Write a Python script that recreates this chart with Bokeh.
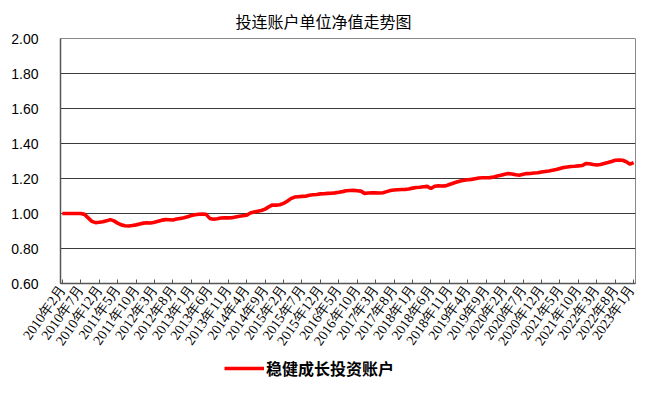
from bokeh.plotting import figure
from bokeh.layouts import column
from bokeh.models import (Range1d, FixedTicker, NumeralTickFormatter, ColumnDataSource,
                          Legend, LegendItem)
from bokeh.embed import file_html
from bokeh.resources import INLINE

title_text = "投连账户单位净值走势图"
series_name = "稳健成长投资账户"

# monthly unit values, 2010年2月 ...
values = [
    1.000, 1.000, 1.000, 1.000, 1.000, 1.000, 0.995,
    0.975, 0.955, 0.948, 0.950, 0.953, 0.958,
    0.965, 0.958, 0.945, 0.935, 0.930, 0.929,
    0.931, 0.935, 0.940, 0.945, 0.947, 0.946,
    0.950, 0.956, 0.962, 0.965, 0.964, 0.963,
    0.968, 0.972, 0.976, 0.982, 0.988, 0.993,
    0.996, 0.997, 0.995, 0.972, 0.967, 0.970,
    0.974, 0.975, 0.975, 0.976, 0.980, 0.984,
    0.987, 0.990, 1.003, 1.008, 1.013, 1.017,
    1.025, 1.038, 1.049, 1.048, 1.050, 1.058,
    1.070, 1.085, 1.094, 1.096, 1.098, 1.099,
    1.104, 1.107, 1.109, 1.112, 1.113, 1.115,
    1.116, 1.118, 1.121, 1.125, 1.130, 1.131,
    1.132, 1.130, 1.128, 1.115, 1.117, 1.118,
    1.118, 1.117, 1.119, 1.125, 1.131, 1.134,
    1.136, 1.137, 1.138, 1.140, 1.145, 1.149,
    1.150, 1.153, 1.155, 1.143, 1.156, 1.158,
    1.157, 1.158, 1.166, 1.173, 1.180, 1.186,
    1.190, 1.193, 1.195, 1.199, 1.203, 1.204,
    1.204, 1.205, 1.209, 1.214, 1.218, 1.224,
    1.228, 1.226, 1.221, 1.219, 1.224, 1.228,
    1.229, 1.231, 1.233, 1.237, 1.240, 1.243,
    1.247, 1.251, 1.257, 1.263, 1.266, 1.269,
    1.270, 1.272, 1.274, 1.285, 1.284, 1.280,
    1.277, 1.280, 1.286, 1.291, 1.297, 1.304,
    1.305, 1.304, 1.296, 1.282, 1.291,
]

tick_labels = [
    "2010年2月", "2010年7月", "2010年12月", "2011年5月", "2011年10月",
    "2012年3月", "2012年8月", "2013年1月", "2013年6月", "2013年11月",
    "2014年4月", "2014年9月", "2015年2月", "2015年7月", "2015年12月",
    "2016年5月", "2016年10月", "2017年3月", "2017年8月", "2018年1月",
    "2018年6月", "2018年11月", "2019年4月", "2019年9月", "2020年2月",
    "2020年7月", "2020年12月", "2021年5月", "2021年10月", "2022年3月",
    "2022年8月", "2023年1月",
]
label_step = 5
y_ticks = [0.6, 0.8, 1.0, 1.2, 1.4, 1.6, 1.8, 2.0]

n = len(values)
x = list(range(n))

p = figure(frame_width=575, frame_height=245, output_backend="svg", toolbar_location=None,
           x_range=Range1d(-0.5, n - 0.5), y_range=Range1d(0.6, 2.0),
           min_border_left=60, min_border_right=2, min_border_top=36,
           min_border_bottom=72)
p.background_fill_color = "white"
p.border_fill_color = "white"
p.outline_line_color = "#8a8a8a"
p.outline_line_width = 1

src = ColumnDataSource(dict(x=x, y=values))
r = p.line("x", "y", source=src, line_color="#ff0000", line_width=3.6)

# y axis
p.yaxis.ticker = FixedTicker(ticks=y_ticks)
p.yaxis.formatter = NumeralTickFormatter(format="0.00")
p.yaxis.major_label_text_font = "Liberation Sans"
p.yaxis.major_label_text_font_size = "14px"
p.yaxis.major_label_text_color = "#000000"
p.yaxis.major_label_standoff = 16
p.yaxis.major_tick_line_color = None
p.yaxis.minor_tick_line_color = None
p.yaxis.axis_line_color = "#555555"
p.yaxis.axis_line_width = 1.5

p.ygrid.ticker = FixedTicker(ticks=y_ticks)
p.ygrid.grid_line_color = "#3a3a3a"
p.ygrid.grid_line_width = 1
p.xgrid.grid_line_color = None

# x axis
label_pos = [i * label_step for i in range(len(tick_labels))]
p.xaxis.ticker = FixedTicker(ticks=label_pos)
p.xaxis.major_label_overrides = {k: t for k, t in zip(label_pos, tick_labels)}
p.xaxis.major_label_orientation = 0.96
p.xaxis.major_label_text_font = "Liberation Serif"
p.xaxis.major_label_text_font_size = "14px"
p.xaxis.major_label_text_color = "#000000"
p.xaxis.major_label_standoff = 3
p.xaxis.major_tick_in = 4
p.xaxis.major_tick_out = 0
p.xaxis.major_tick_line_color = "#555555"
p.xaxis.minor_tick_line_color = None
p.xaxis.axis_line_color = "#555555"
p.xaxis.axis_line_width = 1.5

p.title.text = title_text
p.title.align = "left"
p.title.offset = 175
p.title.standoff = 12
p.title.text_font = "Noto Sans CJK SC"
p.title.text_font_size = "16px"
p.title.text_font_style = "normal"
p.title.text_color = "#000000"

# legend strip below the chart (series drawn out of view, only its legend shows)
q = figure(width=637, height=28, output_backend="svg", toolbar_location=None,
           x_range=Range1d(-0.5, n - 0.5), y_range=Range1d(-1.0, 0.0),
           x_axis_location=None, y_axis_location=None, min_border=0)
q.outline_line_color = None
q.grid.visible = False
q.background_fill_color = "white"
q.border_fill_color = "white"
sample = q.line("x", "y", source=src, line_color="#ff0000", line_width=3.6)
legend = Legend(items=[LegendItem(label=series_name, renderers=[sample])],
                location=(164, 3), orientation="horizontal",
                glyph_width=40, glyph_height=14, label_standoff=2,
                label_height=18, padding=0, margin=0, border_line_color=None,
                background_fill_alpha=0,
                label_text_font="Noto Sans CJK SC", label_text_font_size="16px",
                label_text_font_style="bold", label_text_color="#000000")
q.add_layout(legend)

layout = column(p, q, spacing=0)
open("out.html", "w").write(file_html(layout, INLINE))
